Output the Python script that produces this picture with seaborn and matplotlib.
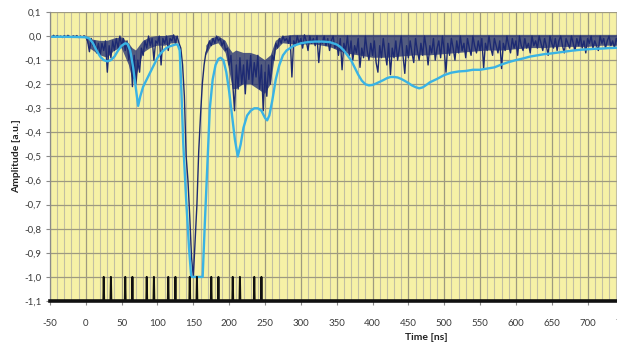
import numpy as np
import pandas as pd
import matplotlib
matplotlib.use("Agg")
import matplotlib.pyplot as plt
import seaborn as sns
from matplotlib.ticker import MultipleLocator, FuncFormatter

# ---------------------------------------------------------------------------
# Data
# ---------------------------------------------------------------------------
# Raw detector signal (navy), sampled every 2.5 ns starting at -50 ns
raw_start = -50.0
raw_step = 2.5
raw_signal = [
    # -50 .. -2.5
    0.0, -0.005, 0.003, -0.004, 0.002, -0.003, 0.0, -0.006, 0.002, -0.004,
    0.003, -0.002, -0.005, 0.001, -0.003, 0.002, -0.006, 0.0, -0.004, 0.001,
    # 0 .. 47.5
    -0.003, -0.02, -0.065, -0.01, -0.04, -0.02, -0.07, -0.03, -0.08, -0.03,
    -0.06, -0.02, -0.15, -0.04, -0.09, -0.02, -0.06, -0.01, -0.05, 0.0,
    # 50 .. 97.5
    -0.04, -0.01, -0.06, -0.02, -0.1, -0.05, -0.21, -0.08, -0.2, -0.1,
    -0.15, -0.05, -0.08, -0.02, -0.05, 0.0, -0.04, -0.01, -0.1, -0.02,
    # 100 .. 147.5
    -0.03, 0.0, -0.12, -0.01, -0.03, 0.0, -0.06, -0.01, -0.02, 0.005,
    -0.03, 0.0, -0.03, -0.05, -0.12, -0.25, -0.5, -0.6, -0.75, -0.92,
    # 150 .. 197.5
    -1.0, -0.85, -0.7, -0.48, -0.33, -0.2, -0.12, -0.07, -0.05, -0.02,
    -0.04, -0.01, -0.03, 0.0, -0.02, -0.01, -0.04, -0.02, -0.06, -0.05,
    # 200 .. 247.5
    -0.12, -0.08, -0.2, -0.31, -0.12, -0.22, -0.09, -0.2, -0.12, -0.24,
    -0.1, -0.18, -0.08, -0.2, -0.11, -0.17, -0.08, -0.22, -0.12, -0.31,
    # 250 .. 297.5
    -0.15, -0.25, -0.12, -0.2, -0.08, -0.1, -0.03, -0.05, -0.01, -0.03,
    0.0, -0.02, -0.01, -0.03, 0.0, -0.17, -0.02, -0.04, 0.0, -0.03,
    # 300 .. 347.5
    -0.01, -0.05, 0.005, -0.02, -0.06, 0.0, -0.03, -0.01, -0.04, 0.0,
    -0.11, -0.02, -0.03, 0.0, -0.04, -0.01, -0.06, -0.02, 0.0, -0.05,
    # 350 .. 397.5
    -0.03, -0.08, -0.01, -0.14, -0.03, -0.06, 0.0, -0.08, -0.02, -0.1,
    -0.04, -0.07, -0.01, -0.13, -0.05, -0.09, 0.0, -0.06, -0.1, -0.03,
    # 400 .. 447.5
    -0.08, -0.02, -0.11, -0.15, -0.04, -0.09, -0.01, -0.07, -0.12, -0.03,
    -0.16, -0.05, -0.09, -0.02, -0.1, -0.05, 0.0, -0.08, -0.155, -0.04,
    # 450 .. 497.5
    -0.09, -0.02, -0.07, -0.11, -0.01, -0.06, -0.1, -0.03, -0.08, 0.0,
    -0.05, -0.12, -0.04, -0.07, -0.01, -0.1, -0.05, -0.02, -0.09, 0.0,
    # 500 .. 547.5
    -0.06, -0.15, -0.03, -0.08, -0.01, -0.05, -0.1, -0.02, -0.07, 0.0,
    -0.06, -0.03, -0.09, -0.01, -0.05, -0.08, 0.0, -0.04, -0.07, -0.02,
    # 550 .. 597.5
    -0.06, -0.01, -0.135, -0.03, -0.06, 0.0, -0.05, -0.08, -0.01, -0.04,
    -0.07, -0.02, -0.135, -0.03, -0.06, 0.0, -0.04, -0.07, -0.01, -0.05,
    # 600 .. 647.5
    -0.02, -0.08, 0.0, -0.04, -0.06, -0.01, -0.05, -0.03, -0.07, 0.0,
    -0.04, -0.02, -0.05, 0.0, -0.03, -0.06, -0.01, -0.04, -0.08, 0.0,
    # 650 .. 697.5
    -0.03, -0.05, -0.01, -0.06, -0.02, 0.0, -0.04, -0.07, -0.01, -0.03,
    -0.05, 0.0, -0.03, -0.06, -0.01, -0.04, 0.0, -0.05, -0.02, -0.07,
    # 700 .. 747.5
    -0.01, -0.03, 0.0, -0.05, -0.02, -0.04, -0.06, 0.0, -0.03, -0.01,
    -0.05, -0.02, 0.0, -0.04, -0.02, -0.05, -0.01, -0.03, 0.0, -0.04,
    # 750 .. 765
    -0.02, -0.03, -0.01, -0.04, -0.02, -0.03, -0.01,
]

# Dense core of the raw signal's fast fluctuation (upper / lower edge);
# NaN leaves the gap around the main pulse
band_time = [
    0, 5, 10, 20, 30, 40, 50, 60, 65, 70, 75, 80, 90, 100, 110, 120, 128,
    np.nan,
    168, 175, 185, 195, 200, 205, 210, 220, 230, 240, 250, 258, 265, 275,
    290, 300, 320, 340, 360, 380, 400, 420, 440, 460, 480, 500, 520, 540,
    560, 580, 600, 620, 640, 660, 680, 700, 720, 740, 765,
]
band_upper = [
    0.0, -0.01, -0.015, -0.02, -0.02, -0.01, -0.005, -0.03, -0.05, -0.06,
    -0.04, -0.02, -0.005, 0.0, 0.0, 0.005, 0.0,
    np.nan,
    -0.04, -0.01, 0.0, -0.02, -0.05, -0.07, -0.06, -0.07, -0.07, -0.08,
    -0.1, -0.08, -0.02, 0.0,
    0.005, 0.005, 0.005, 0.005, 0.005, 0.005, 0.005, 0.005, 0.005, 0.005,
    0.005, 0.005, 0.005, 0.005, 0.005, 0.005, 0.005, 0.005, 0.005, 0.005,
    0.005, 0.005, 0.005, 0.005, 0.005,
]
band_lower = [
    -0.01, -0.05, -0.06, -0.08, -0.09, -0.06, -0.05, -0.12, -0.18, -0.17,
    -0.12, -0.07, -0.05, -0.04, -0.04, -0.03, -0.03,
    np.nan,
    -0.08, -0.04, -0.03, -0.07, -0.14, -0.22, -0.22, -0.2, -0.2, -0.22,
    -0.24, -0.2, -0.06, -0.03,
    -0.035, -0.035, -0.035, -0.045, -0.07, -0.08, -0.09, -0.09, -0.085,
    -0.08, -0.08, -0.075, -0.07, -0.065, -0.06, -0.06, -0.055, -0.05,
    -0.05, -0.045, -0.045, -0.045, -0.04, -0.04, -0.04,
]

# Smoothed response (light blue)
smooth_time = [
    -50, -30, -10, 0, 5, 10, 15, 20, 25, 30, 35, 40, 45, 50, 55, 58, 62, 66,
    70, 73, 76, 80, 85, 90, 95, 100, 105, 110, 115, 120, 125, 128, 131, 133,
    136, 140, 144, 147, 155, 163, 166, 170, 173, 177, 181, 185, 188, 192, 196,
    200, 204, 208, 212, 216, 220, 225, 230, 235, 240, 245, 250, 253, 256, 260,
    265, 270, 275, 280, 290, 300, 310, 320, 330, 340, 350, 355, 360, 365, 370,
    375, 380, 385, 390, 395, 400, 405, 410, 415, 420, 425, 430, 435, 440, 445,
    450, 455, 460, 465, 470, 475, 480, 490, 500, 510, 520, 530, 540, 550, 560,
    570, 580, 590, 600, 610, 620, 630, 640, 650, 660, 670, 680, 690, 700, 710,
    720, 730, 740, 750, 765,
]
smooth_value = [
    -0.003, -0.003, -0.004, -0.005, -0.01, -0.03, -0.06, -0.085, -0.10, -0.105,
    -0.10, -0.085, -0.06, -0.04, -0.03, -0.032, -0.06, -0.13, -0.22, -0.29,
    -0.25, -0.21, -0.18, -0.15, -0.12, -0.09, -0.07, -0.055, -0.045, -0.04,
    -0.035, -0.035, -0.06, -0.2, -0.45, -0.68, -0.88, -1.0, -1.0, -1.0,
    -0.78, -0.5, -0.3, -0.18, -0.12, -0.095, -0.09, -0.1, -0.15, -0.23,
    -0.33, -0.43, -0.50, -0.45, -0.38, -0.33, -0.31, -0.30, -0.30, -0.31,
    -0.34, -0.35, -0.33, -0.27, -0.18, -0.12, -0.08, -0.06, -0.04, -0.03,
    -0.025, -0.023, -0.023, -0.025, -0.035, -0.045, -0.06, -0.08, -0.10, -0.13,
    -0.16, -0.185, -0.20, -0.205, -0.203, -0.197, -0.19, -0.183, -0.175, -0.17,
    -0.17, -0.172, -0.178, -0.186, -0.195, -0.205, -0.212, -0.217, -0.213, -0.203,
    -0.192, -0.178, -0.162, -0.152, -0.147, -0.145, -0.14, -0.14, -0.135, -0.13,
    -0.118, -0.108, -0.10, -0.093, -0.085, -0.08, -0.075, -0.072, -0.068, -0.064,
    -0.06, -0.057, -0.055, -0.053, -0.052, -0.05, -0.049, -0.048, -0.047,
]

# Trigger pulses (black): baseline level and pulse peak level
pulse_time = [25, 35, 55, 65, 85, 95, 115, 125, 145, 155,
              175, 185, 205, 215, 235, 245]
pulse_low = -1.1
pulse_high = -1.0

x_ticks = list(range(-50, 751, 50))
y_ticks = [round(-1.1 + 0.1 * i, 1) for i in range(13)]

# ---------------------------------------------------------------------------
# Frames
# ---------------------------------------------------------------------------
raw_df = pd.DataFrame({
    "t": raw_start + raw_step * np.arange(len(raw_signal)),
    "amp": raw_signal,
})
smooth_df = pd.DataFrame({"t": smooth_time, "amp": smooth_value})

pt, pv = [-50.0], [pulse_low]
for t in pulse_time:
    pt += [t - 0.6, t, t + 0.6]
    pv += [pulse_low, pulse_high, pulse_low]
pt.append(800.0)
pv.append(pulse_low)
pulse_df = pd.DataFrame({"t": pt, "amp": pv})

# ---------------------------------------------------------------------------
# Figure
# ---------------------------------------------------------------------------
sns.set_theme(style="white")
plt.rcParams["font.family"] = ["Lato", "DejaVu Sans"]

fig = plt.figure(figsize=(6.17, 3.47), dpi=100)
ax = fig.add_axes([0.081, 0.1326, 0.941, 0.8329])
ax.set_facecolor("#f6f1a6")

x_min, x_max = -50, 760
ax.set_xlim(x_min, x_max)
ax.set_ylim(-1.1, 0.1)

# grid: minor every 10 ns, major every 50 ns, horizontal every 0.1
ax.xaxis.set_major_locator(MultipleLocator(50))
ax.xaxis.set_minor_locator(MultipleLocator(10))
ax.set_yticks(y_ticks)
ax.grid(which="minor", axis="x", color="#c2bfa2", lw=0.8)
ax.grid(which="major", axis="x", color="#9e9a80", lw=0.9)
ax.grid(which="major", axis="y", color="#9e9a80", lw=0.9)
ax.set_axisbelow(True)

navy = "#1d2a72"
ax.fill_between(band_time, band_lower, band_upper, color=navy, alpha=0.75,
                lw=0)
sns.lineplot(data=raw_df, x="t", y="amp", ax=ax, color=navy,
             lw=1.0, sort=False, estimator=None)
sns.lineplot(data=smooth_df, x="t", y="amp", ax=ax, color="#3ab3e4",
             lw=1.7, sort=False, estimator=None)
sns.lineplot(data=pulse_df, x="t", y="amp", ax=ax, color="#111111",
             lw=1.4, sort=False, estimator=None, clip_on=False)

ax.set_xticks(x_ticks)
ax.xaxis.set_major_formatter(FuncFormatter(lambda v, p: f"{int(round(v))}"))
ax.yaxis.set_major_formatter(
    FuncFormatter(lambda v, p: f"{v:.1f}".replace(".", ",").replace("-0,0", "0,0")))

ax.tick_params(axis="both", which="major", labelsize=7, labelcolor="#3a3a3a",
               length=3, width=0.8, color="#8a8a8a", pad=3)
ax.tick_params(axis="x", which="minor", length=0)
ax.tick_params(axis="x", pad=10)
ax.tick_params(left=True, bottom=True)

for side in ("top", "right"):
    ax.spines[side].set_visible(False)
ax.spines["left"].set_color("#8a8a8a")
ax.spines["left"].set_linewidth(0.9)
ax.spines["bottom"].set_color("#111111")
ax.spines["bottom"].set_linewidth(2.6)
ax.spines["bottom"].set_zorder(3)

ax.set_xlabel("Time [ns]", fontsize=7.5, fontweight="bold", color="#222222")
ax.xaxis.set_label_coords(0.649, -0.11)
ax.set_ylabel("Amplitude [a.u.]", fontsize=7.5, fontweight="bold", color="#222222")
ax.yaxis.set_label_coords(-0.05, 0.5)

fig.savefig("out.png", dpi=100, facecolor="white")
